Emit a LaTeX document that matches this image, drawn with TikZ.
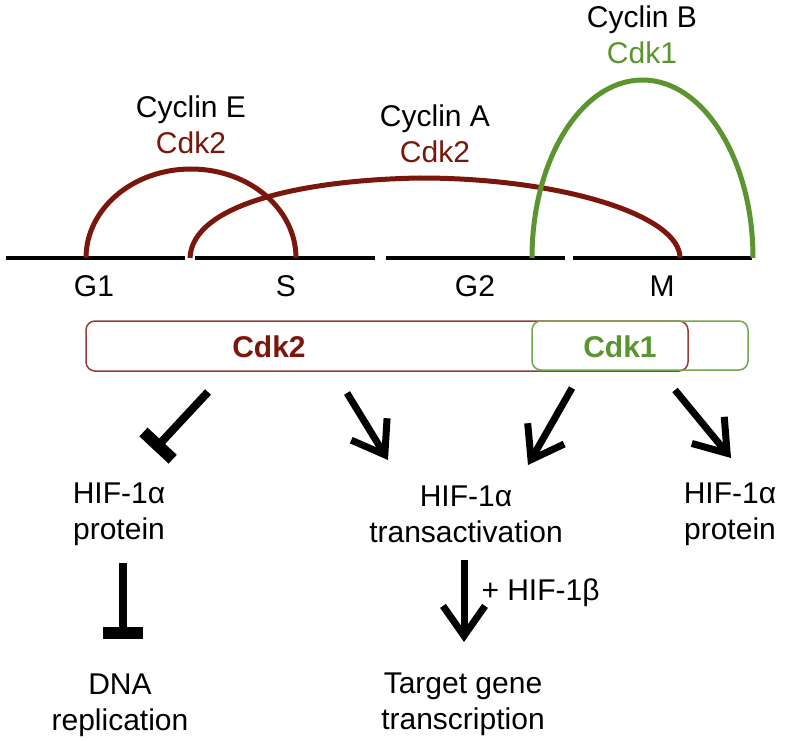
\documentclass[tikz,border=0pt]{standalone}
\usepackage{fontspec}
\setmainfont{Liberation Sans}
\usetikzlibrary{arrows.meta}
\definecolor{cdkred}{RGB}{122,22,12}
\definecolor{cdkgreen}{RGB}{92,148,48}
\definecolor{boxred}{RGB}{150,60,50}
\definecolor{boxgreen}{RGB}{115,165,80}

\begin{document}
\begin{tikzpicture}[x=1pt,y=-1pt, every node/.style={font=\fontsize{30}{36}\selectfont, align=center, inner sep=0pt}]
\tikzset{phase/.style = {line width=4pt}}
\tikzset{cyc/.style = {line width=5pt}}
\tikzset{cdkbox/.style = {draw, line width=1.5pt, rounded corners=9pt}}
\tikzset{act/.style = {line width=7pt, -{Straight Barb[length=30pt,width=42pt]}}}
\tikzset{inh/.style = {line width=8pt, -{Bar[width=40pt,line width=12pt]}}}
\useasboundingbox (0,0) rectangle (796,741);
% phases
\draw[phase] (6,258) -- (185,258);
\draw[phase] (195,258) -- (375,258);
\draw[phase] (386,258) -- (565,258);
\draw[phase] (573,258) -- (752,258);
\node (g1) at (94,286) {G1};
\node (s) at (286,286) {S};
\node (g2) at (475,286) {G2};
\node (m) at (662,286) {M};
% cyclins
\draw[cyc, cdkred] (86,258) arc[start angle=180, end angle=360, x radius=105, y radius=89];
\draw[cyc, cdkred] (190,258) .. controls (192,205) and (300,180) .. (420,178)
                   .. controls (560,178) and (680,215) .. (680,258);
\draw[cyc, cdkgreen] (532,258) arc[start angle=180, end angle=360, x radius=110.5, y radius=178];
\node (cycE) at (191,125) {Cyclin E\\\textcolor{cdkred}{Cdk2}};
\node (cycA) at (435,134) {Cyclin A\\\textcolor{cdkred}{Cdk2}};
\node (cycB) at (642,35) {Cyclin B\\\textcolor{cdkgreen}{Cdk1}};
% kinases
\draw[cdkbox, boxred] (86,321) rectangle (688,371);
\draw[cdkbox, boxgreen] (532,321) rectangle (748,370);
\node[text=cdkred, font=\fontsize{30}{36}\bfseries] (cdk2) at (269,347) {Cdk2};
\node[text=cdkgreen, font=\fontsize{30}{36}\bfseries] (cdk1) at (620,347) {Cdk1};
% targets
\node (hifL) at (119,514) {HIF-1α\\protein};
\node (hifM) at (466,514) {HIF-1α\\transactivation};
\node (hifR) at (730,514) {HIF-1α\\protein};
\node (dna) at (120,705) {DNA\\replication};
\node (target) at (463,704) {Target gene\\transcription};
%edges
\coordinate (inhLs) at (208,392);
\coordinate (inhLe) at (154,450);
\coordinate (actMs) at (347,393);
\coordinate (actMe) at (388,460);
\coordinate (actNs) at (572,388);
\coordinate (actNe) at (528,465);
\coordinate (actRs) at (675,390);
\coordinate (actRe) at (731,458);
\coordinate (inhDs) at (123,563);
\coordinate (inhDe) at (123,639);
\coordinate (actTs) at (464,560);
\coordinate (actTe) at (464,642);
\draw[inh] (inhLs) to (inhLe);
\draw[act] (actMs) to (actMe);
\draw[act] (actNs) to (actNe);
\draw[act] (actRs) to (actRe);
\draw[inh] (inhDs) to (inhDe);
\draw[act] (actTs) to node[right=14pt, pos=0.4] (hifb) {+ HIF-1β} (actTe);

\end{tikzpicture}
\end{document}
